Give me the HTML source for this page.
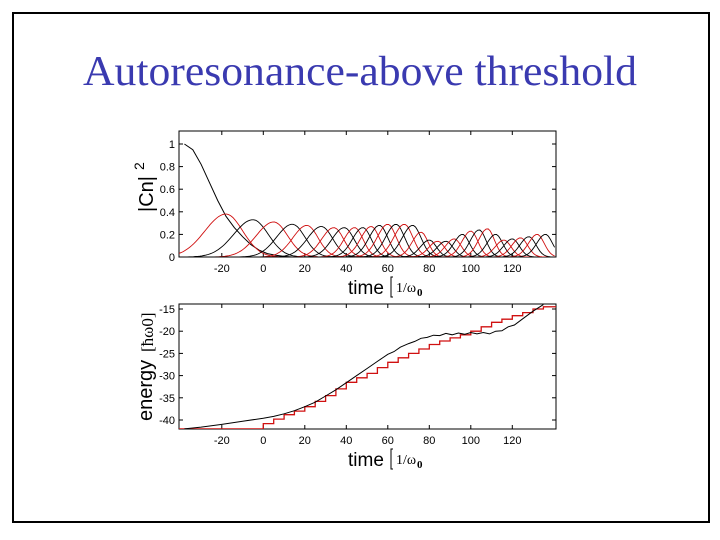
<!DOCTYPE html>
<html><head><meta charset="utf-8"><style>
html,body{margin:0;padding:0;background:#fff;}
svg{display:block;}
</style></head><body>
<svg id="root" width="720" height="540" viewBox="0 0 720 540" xmlns="http://www.w3.org/2000/svg">
<rect x="13" y="13" width="696" height="509" fill="#fff" stroke="#000" stroke-width="2"/>
<text x="83" y="85" font-family="Liberation Serif, serif" font-size="42" fill="#3a3ab0" textLength="554" lengthAdjust="spacingAndGlyphs">Autoresonance-above threshold</text>
<g id="top"></g>
<g id="bot"></g>
</svg>
<script>
// ---- data: top chart (|Cn|^2) ----
const firstCurveT = [-38,-34,-30,-26,-22,-18,-14,-10,-6,-2,2,6,10,14];
const firstCurveV = [1.0,0.95,0.82,0.66,0.5,0.36,0.26,0.18,0.11,0.06,0.03,0.015,0.005,0];
const peakCenters = [-18,-5,5,14,21,28,34,39,44,48,52,56,60,64,68,72,76,80,84,88,92,96,100,104,108,112,116,120,124,128,132,136];
const peakHeights = [0.38,0.33,0.31,0.29,0.28,0.27,0.26,0.26,0.26,0.26,0.27,0.28,0.29,0.29,0.29,0.28,0.22,0.15,0.14,0.14,0.16,0.2,0.23,0.24,0.25,0.2,0.15,0.16,0.17,0.18,0.2,0.2];
const peakWidths = [12,11,10,9,8,8,7,7,6,6,6,6,6,6,6,6,5,5,5,5,5,5,5,5,5,5,5,5,5,5,5,5];
const topYTicks = [0,0.2,0.4,0.6,0.8,1];
const topYLabels = ["0","0.2","0.4","0.6","0.8","1"];
const xTicks = [-20,0,20,40,60,80,100,120];
const xLabels = ["-20","0","20","40","60","80","100","120"];
// ---- data: bottom chart (energy) ----
const energyT = [-38,-30,-20,-10,0,5,10,15,20,25,30,35,40,45,50,55,60,63,66,70,73,76,79,82,85,88,91,94,97,100,103,106,109,112,115,118,121,125,130,135];
const energyV = [-42,-41.6,-41,-40.3,-39.6,-39.2,-38.6,-37.9,-37,-36,-34.6,-33.2,-31.6,-30,-28.4,-26.8,-25.2,-24.6,-23.6,-22.8,-22.3,-21.6,-21.4,-20.9,-21.0,-20.5,-20.8,-20.4,-20.7,-20.3,-20.6,-20.3,-20.6,-20.0,-19.9,-19.0,-18.6,-17.2,-15.5,-14];
const stepT = [0,5,10,15,20,25,30,35,40,45,50,55,60,65,70,75,80,85,90,95,100,105,110,115,120,125,130,135];
const stepV = [-40.8,-39.8,-38.8,-38,-37,-35.8,-34.5,-33,-31.5,-30.5,-29.5,-28.2,-27,-26,-25,-24,-23,-22.2,-21.5,-20.8,-20,-19,-18,-17.3,-16.5,-15.8,-15,-14.5];
const botYTicks = [-40,-35,-30,-25,-20,-15];
const botYLabels = ["-40","-35","-30","-25","-20","-15"];

const NS="http://www.w3.org/2000/svg";
function mk(tag, attrs, parent){const e=document.createElementNS(NS,tag);for(const k in attrs)e.setAttribute(k,attrs[k]);parent.appendChild(e);return e;}
const L=179,R=556;
const xS=t=>263.3+(t)*2.075;
const xMin=(L-263.3)/2.075, xMax=(R-263.3)/2.075;

function axes(g,T,B,yS,yT,yL,name){
  const box=mk('rect',{x:L,y:T,width:R-L,height:B-T,fill:'none',stroke:'#000','stroke-width':1},g);
  
  
  xTicks.forEach((t,i)=>{
    const x=xS(t);
    mk('line',{x1:x,y1:B,x2:x,y2:B-4,stroke:'#000','stroke-width':1},g);
    mk('line',{x1:x,y1:T,x2:x,y2:T+4,stroke:'#000','stroke-width':1},g);
    const tx=mk('text',{x:x,y:B+15,'font-family':'Liberation Sans, sans-serif','font-size':11,'text-anchor':'middle',fill:'#000'},g);
    tx.textContent=xLabels[i];
    
    
  });
  yT.forEach((v,i)=>{
    const y=yS(v);
    mk('line',{x1:L,y1:y,x2:L+4,y2:y,stroke:'#000','stroke-width':1},g);
    mk('line',{x1:R,y1:y,x2:R-4,y2:y,stroke:'#000','stroke-width':1},g);
    const tx=mk('text',{x:L-4,y:y+4,'font-family':'Liberation Sans, sans-serif','font-size':11,'text-anchor':'end',fill:'#000'},g);
    tx.textContent=yL[i];
    
    
  });
}
function timeLabel(g,y,name){
  const t=mk('text',{x:348,y:y,'font-family':'Liberation Sans, sans-serif','font-size':19,fill:'#000'},g);
  t.textContent='time';
  
  
  mk('path',{d:`M393 ${y-17} L391 ${y-17} L391 ${y+3} L393 ${y+3}`,fill:'none',stroke:'#000','stroke-width':1},g);
  const u=mk('text',{x:396,y:y-2,'font-family':'Liberation Serif, serif','font-size':14,fill:'#000'},g);
  u.textContent='1/ω';
  
  
  const s=mk('text',{x:417,y:y+2,'font-family':'Liberation Serif, serif','font-size':11,'font-weight':'bold',fill:'#000'},g);
  s.textContent='0';
}

// ---- top chart ----
const gt=document.getElementById('top');
const tT=131,tB=257;
const yTop=v=>257-v*(113);
axes(gt,tT,tB,yTop,topYTicks,topYLabels,'populations');
const clipT=mk('clipPath',{id:'ct'},gt); mk('rect',{x:L,y:tT,width:R-L,height:tB-tT},clipT);
const cg=mk('g',{'clip-path':'url(#ct)'},gt);
let d=firstCurveT.map((t,i)=>(i?'L':'M')+xS(t).toFixed(1)+' '+yTop(firstCurveV[i]).toFixed(1)).join(' ')+' L'+xS(xMax)+' '+yTop(0);
const fc=mk('path',{d:d,fill:'none',stroke:'#000','stroke-width':1},cg);


peakCenters.forEach((c,i)=>{
  const h=peakHeights[i], w=peakWidths[i];
  let pts=[];
  for(let t=xMin;t<=xMax;t+=1){
    const z=(t-c)/w;
    const v=h*Math.exp(-z*z*(z<0?0.7:1.1));
    pts.push((pts.length?'L':'M')+xS(t).toFixed(1)+' '+yTop(v).toFixed(1));
  }
  const p=mk('path',{d:pts.join(' '),fill:'none',stroke:i%2?'#000':'#d01010','stroke-width':0.9},cg);
  
  
});
const ylt=mk('text',{x:0,y:0,'font-family':'Liberation Sans, sans-serif','font-size':20,fill:'#000',transform:'translate(153,194) rotate(-90)','text-anchor':'middle'},gt);
ylt.textContent='|Cn|';


const sup=mk('text',{x:0,y:0,'font-family':'Liberation Sans, sans-serif','font-size':14,fill:'#000',transform:'translate(144,170) rotate(-90)'},gt);
sup.textContent='2';
timeLabel(gt,294,'populations');

// ---- bottom chart ----
const gb=document.getElementById('bot');
const bT=304,bB=429;
const yBot=v=>309+(-15-v)*4.44;
axes(gb,bT,bB,yBot,botYTicks,botYLabels,'energy');
const clipB=mk('clipPath',{id:'cb'},gb); mk('rect',{x:L,y:bT,width:R-L,height:bB-bT},clipB);
const cb=mk('g',{'clip-path':'url(#cb)'},gb);
let sd='M'+xS(xMin)+' '+yBot(-42)+' L'+xS(stepT[0])+' '+yBot(-42);
stepT.forEach((t,i)=>{sd+=' L'+xS(t).toFixed(1)+' '+yBot(stepV[i]).toFixed(1); if(i<stepT.length-1) sd+=' L'+xS(stepT[i+1]).toFixed(1)+' '+yBot(stepV[i]).toFixed(1);});
sd+=' L'+xS(xMax)+' '+yBot(stepV[stepV.length-1]);
const sp=mk('path',{d:sd,fill:'none',stroke:'#d01010','stroke-width':1.3},cb);


const ed=energyT.map((t,i)=>(i?'L':'M')+xS(t).toFixed(1)+' '+yBot(energyV[i]).toFixed(1)).join(' ');
const ep=mk('path',{d:ed,fill:'none',stroke:'#000','stroke-width':1},cb);


const ylb=mk('text',{x:0,y:0,'font-family':'Liberation Sans, sans-serif','font-size':20,fill:'#000',transform:'translate(152,421) rotate(-90)'},gb);
ylb.textContent='energy';


const yu=mk('text',{x:0,y:0,'font-family':'Liberation Serif, serif','font-size':17,fill:'#000',transform:'translate(153,352) rotate(-90)'},gb);
yu.textContent='[ħω0]';


timeLabel(gb,466,'energy');
</script>
</body></html>
